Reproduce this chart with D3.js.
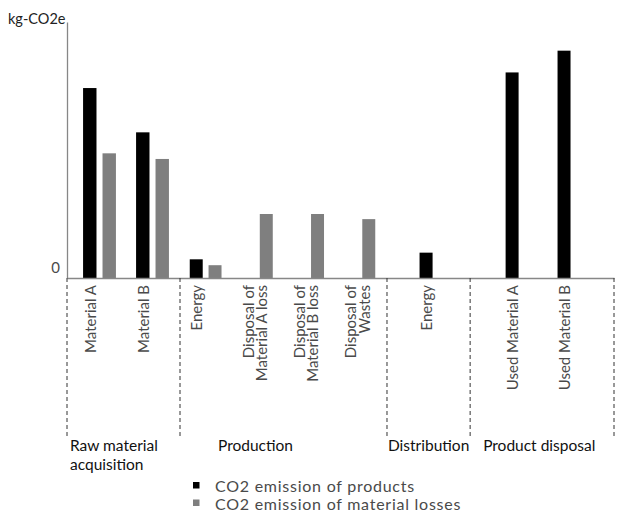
<!DOCTYPE html>
<html><head><meta charset="utf-8">
<script src="https://cdn.jsdelivr.net/npm/d3@7"></script>
<style>
html,body{margin:0;padding:0;background:#fff;}
svg{display:block;font-family:Lato, "Open Sans", sans-serif;}
</style></head>
<body><svg id="chart" width="617" height="521"></svg>
<script>
// ---- data ----
const sections = ["Raw material acquisition", "Production", "Distribution", "Product disposal"];
const categories = ["Material A", "Material B", "Energy", "Disposal of\nMaterial A loss",
  "Disposal of\nMaterial B loss", "Disposal of\nWastes", "Energy", "Used Material A", "Used Material B"];
const categorySection = [0, 0, 1, 1, 1, 1, 2, 3, 3];
const seriesNames = ["CO2 emission of products", "CO2 emission of material losses"];
const productValues = [74.2, 56.9, 7.3, null, null, null, 9.9, 80.3, 88.8];
const lossValues = [48.7, 46.5, 5.0, 25.0, 25.0, 23.0, null, null, null];
const yTickValues = [0];
const yTickLabels = ["0"];
const yAxisTitle = "kg-CO2e";

// ---- layout ----
const W = 617, H = 521;
const plot = {left: 67, right: 614, top: 22, bottom: 278};
const sectionBounds = [0, 0.2066, 0.585, 0.737, 1.0];      // fractions of plot width
const sectionInsets = [[6, 1], [0, 2], [13, 18], [16, 24]]; // px
const sectionLabelOffset = [3, 38, 1, 13];
const colors = ["#000000", "#7f7f7f"];
const axisColor = "#878787";

const svg = d3.select("#chart");
const y = d3.scaleLinear().domain([0, 100]).range([plot.bottom, plot.top]);
const px = d3.scaleLinear().domain([0, 1]).range([plot.left, plot.right]);

const seriesValues = [productValues, lossValues];

// per-section scales
const secScales = sections.map((s, si) => {
  const cats = categories.map((c, i) => i).filter(i => categorySection[i] === si);
  const x0 = px(sectionBounds[si]) + sectionInsets[si][0];
  const x1 = px(sectionBounds[si + 1]) - sectionInsets[si][1];
  const outer = d3.scaleBand().domain(cats).range([x0, x1]).padding(0);
  const present = seriesNames.map((n, k) => k).filter(k => cats.some(i => seriesValues[k][i] != null));
  const step = outer.bandwidth();
  const barW = step * 0.25;
  const groupW = present.length === 2 ? step * 0.62 : barW;
  const inner = d3.scaleBand().domain(present).range([-groupW / 2, groupW / 2])
    .paddingInner(present.length === 2 ? 0.31 : 0);
  return {cats, outer, inner, present, x0, x1};
});

// bars
categories.forEach((c, i) => {
  const sc = secScales[categorySection[i]];
  const gc = sc.outer(i) + sc.outer.bandwidth() / 2;
  sc.present.forEach(k => {
    const v = seriesValues[k][i];
    if (v == null) return;
    svg.append("rect")
      .attr("x", gc + sc.inner(k))
      .attr("y", y(v))
      .attr("width", sc.inner.bandwidth())
      .attr("height", y(0) - y(v))
      .attr("fill", colors[k]);
  });
  // rotated category label
  const firstX = gc + sc.inner(sc.present[0]) + sc.inner.bandwidth() / 2 + 1;
  const lines = c.split("\n");
  const t = svg.append("text")
    .attr("transform", `translate(${firstX},${plot.bottom + 7}) rotate(-90)`)
    .attr("text-anchor", "end")
    .attr("font-size", 15)
    .attr("fill", "#4a4a4a");
  lines.forEach((ln, li) => {
    t.append("tspan").attr("x", 0).attr("y", li * 13.5).attr("dy", "0.35em").text(ln);
  });
});

// axes
const yAxis = d3.axisLeft(y).tickValues(yTickValues).tickFormat((d, i) => yTickLabels[i]).tickSize(0).tickPadding(7);
const ya = svg.append("g").attr("transform", `translate(${plot.left},0)`).call(yAxis);
ya.select(".domain").attr("stroke", axisColor).attr("stroke-width", 1.3);
ya.selectAll("text").attr("font-size", 15).attr("fill", "#4a4a4a").attr("font-family", "Lato, sans-serif").attr("dy", "-0.4em");

const xa = svg.append("g").attr("transform", `translate(0,${plot.bottom})`)
  .call(d3.axisBottom(px).tickValues([]).tickSizeOuter(0));
xa.select(".domain").attr("stroke", axisColor).attr("stroke-width", 1.3);

svg.append("text").attr("x", 8).attr("y", 24).attr("font-size", 14.5).attr("fill", "#222")
  .text(yAxisTitle);

// section separators
sectionBounds.forEach(f => {
  svg.append("line").attr("x1", px(f)).attr("x2", px(f))
    .attr("y1", plot.bottom).attr("y2", 436)
    .attr("stroke", "#333").attr("stroke-width", 1).attr("stroke-dasharray", "4,3");
});

// section labels
const secLabelLines = [["Raw material", "acquisition"], ["Production"], ["Distribution"], ["Product disposal"]];
sections.forEach((s, si) => {
  const t = svg.append("text").attr("font-size", 15.5).attr("fill", "#111");
  secLabelLines[si].forEach((ln, li) => {
    t.append("tspan").attr("x", px(sectionBounds[si]) + sectionLabelOffset[si]).attr("y", 451 + li * 19).text(ln);
  });
});

// legend
seriesNames.forEach((n, k) => {
  const ly = 492 + k * 17.5;
  svg.append("rect").attr("x", 193).attr("y", ly - 10).attr("width", 6.5).attr("height", 6.5).attr("fill", colors[k]);
  svg.append("text").attr("x", 215).attr("y", ly).attr("font-size", 16).attr("letter-spacing", 0.75)
    .attr("fill", "#4a4a4a").text(n);
});
</script></body></html>
